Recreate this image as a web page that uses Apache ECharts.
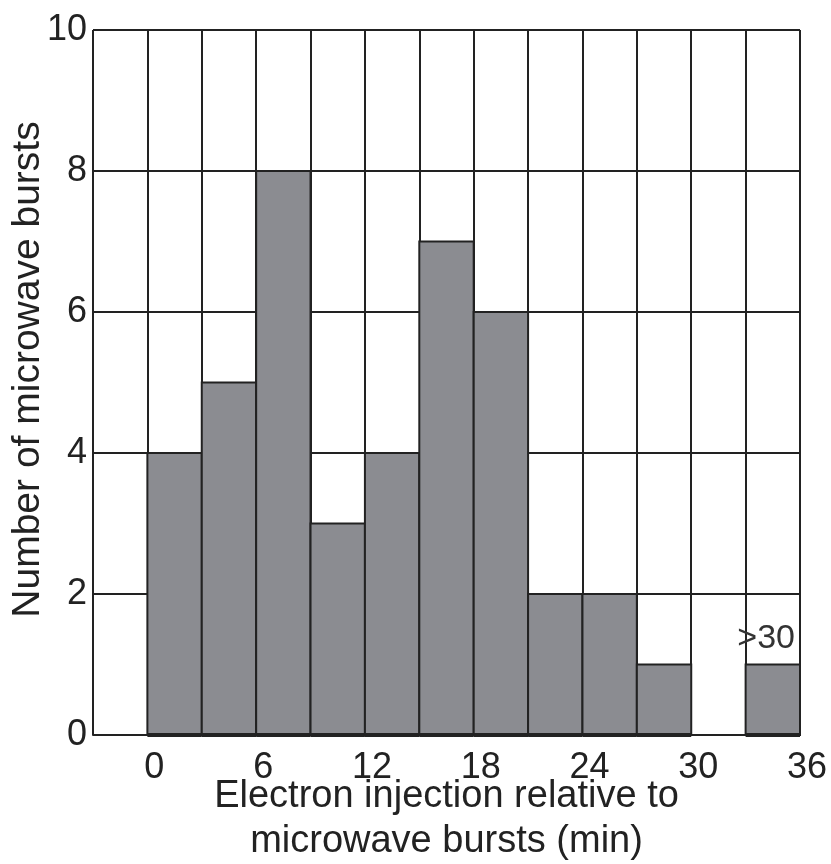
<!DOCTYPE html>
<html>
<head>
<meta charset="utf-8">
<script src="https://cdn.jsdelivr.net/npm/echarts@6/dist/echarts.min.js"></script>
<style>
  html, body { margin: 0; padding: 0; background: #fff; }
  #chart { width: 831px; height: 864px; }
</style>
</head>
<body>
<div id="chart"></div>
<script>
// Histogram bins: start of each 3-minute bin and its count
const binStarts = [0, 3, 6, 9, 12, 15, 18, 21, 24, 27, 30, 33];
const binWidth = 3;
const counts = [4, 5, 8, 3, 4, 7, 6, 2, 2, 1, 0, 1];
const binNotes = ['', '', '', '', '', '', '', '', '', '', '', '>30'];

const xTitle = 'Electron injection relative to\nmicrowave bursts (min)';
const yTitle = 'Number of microwave bursts';

const FONT = '"Liberation Sans", Arial, Helvetica, sans-serif';
const INK = '#222';
const BAR_FILL = '#8b8c91';

const chart = echarts.init(document.getElementById('chart'));

const data = binStarts.map((s, i) => [s, s + binWidth, counts[i], binNotes[i]]);

chart.setOption({
  animation: false,
  backgroundColor: '#fff',
  grid: {
    left: 93, top: 30, width: 707, height: 705,
    containLabel: false, outerBoundsMode: 'none'
  },
  xAxis: {
    type: 'value',
    min: -3,
    max: 36,
    interval: 3,
    name: xTitle,
    nameLocation: 'middle',
    nameGap: 39,
    nameMoveOverlap: false,
    nameTextStyle: { fontFamily: FONT, fontSize: 38, color: INK, lineHeight: 45, verticalAlign: 'top' },
    axisLine: { show: true, lineStyle: { color: INK, width: 2 } },
    axisTick: { show: false },
    axisLabel: {
      fontFamily: FONT, fontSize: 36, color: INK, margin: 15,
      padding: [0, 0, 0, 14],
      formatter: v => (v >= 0 && v % 6 === 0) ? String(v) : ''
    },
    splitLine: { show: true, lineStyle: { color: INK, width: 2 } }
  },
  yAxis: {
    type: 'value',
    min: 0,
    max: 10,
    interval: 2,
    name: yTitle,
    nameLocation: 'middle',
    nameGap: 45,
    nameMoveOverlap: false,
    nameRotate: 90,
    nameTextStyle: { fontFamily: FONT, fontSize: 39, color: INK, padding: [0, 0, 0, 26] },
    axisLine: { show: true, lineStyle: { color: INK, width: 2 } },
    axisTick: { show: false },
    axisLabel: { fontFamily: FONT, fontSize: 36, color: INK, margin: 6 },
    splitLine: { show: true, lineStyle: { color: INK, width: 2 } }
  },
  series: [{
    type: 'custom',
    data: data,
    encode: { x: [0, 1], y: 2 },
    renderItem: function (params, api) {
      const x0 = api.value(0), x1 = api.value(1), n = api.value(2);
      const p0 = api.coord([x0, n]);
      const p1 = api.coord([x1, 0]);
      const children = [];
      if (n > 0) {
        children.push({
          type: 'rect',
          shape: { x: p0[0], y: p0[1], width: p1[0] - p0[0], height: p1[1] - p0[1] },
          style: { fill: BAR_FILL, stroke: INK, lineWidth: 2 }
        });
        children.push({
          type: 'line',
          shape: { x1: p0[0], y1: p1[1], x2: p1[0], y2: p1[1] },
          style: { stroke: INK, lineWidth: 4 }
        });
      }
      const note = data[params.dataIndex][3];
      if (note) {
        children.push({
          type: 'text',
          x: p1[0] - 5,
          y: p0[1] - 9,
          style: {
            text: note, fill: '#333', font: '34px ' + FONT,
            align: 'right', verticalAlign: 'bottom'
          }
        });
      }
      return { type: 'group', children: children };
    }
  }]
});
</script>
</body>
</html>
